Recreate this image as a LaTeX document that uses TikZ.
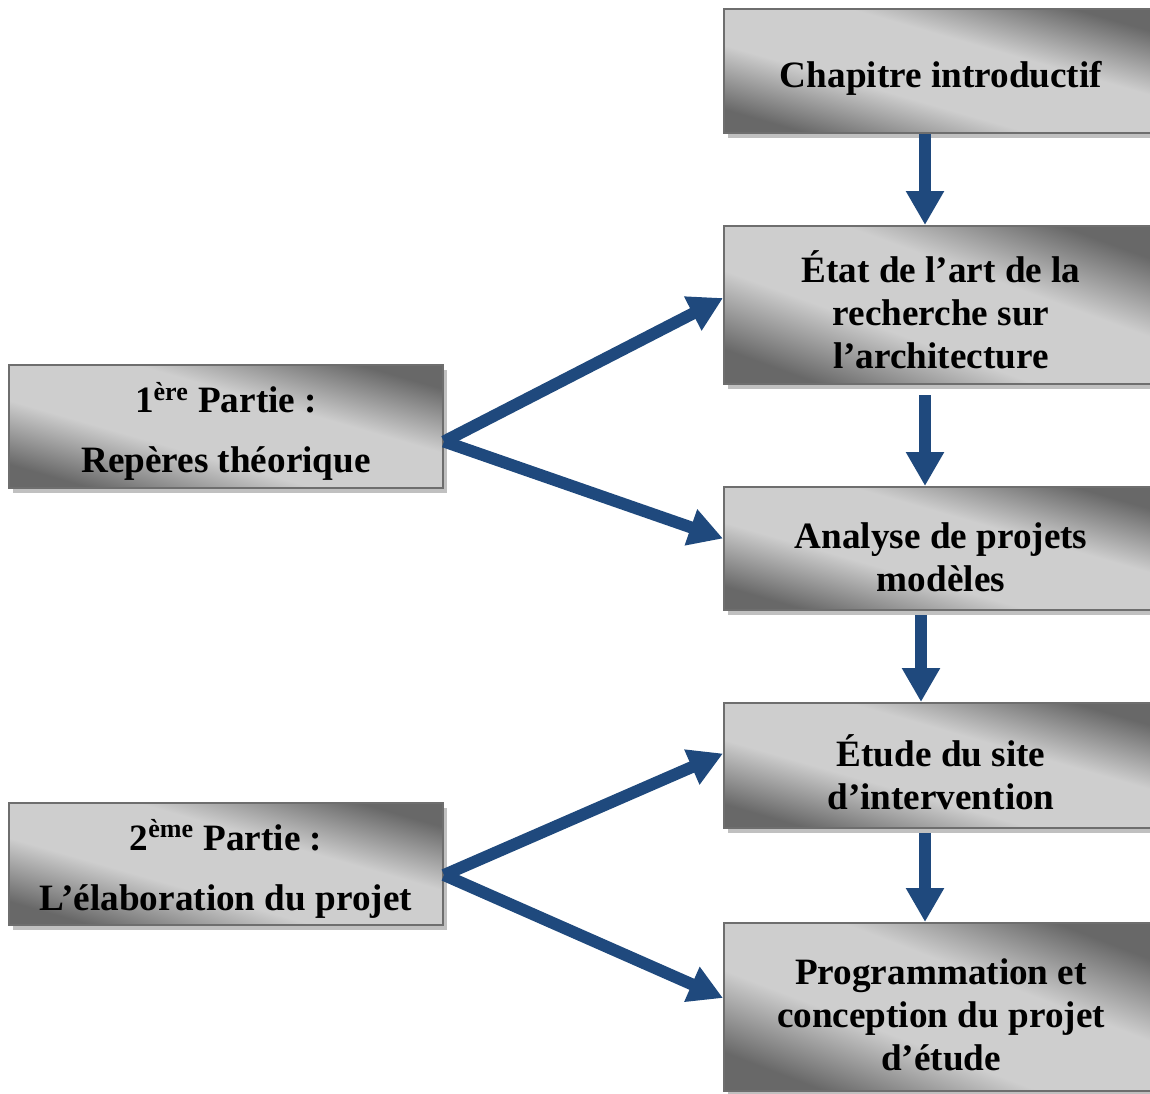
\documentclass[tikz,border=0pt]{standalone}
\usepackage{fontspec}
\setmainfont{Liberation Serif}
\usepackage{tikz}
\usetikzlibrary{arrows.meta,positioning,shadows}
\usepackage{xcolor}
\definecolor{arrowblue}{RGB}{31,73,125}
\definecolor{boxdark}{RGB}{104,104,104}
\definecolor{boxlight}{RGB}{206,206,206}
\definecolor{boxedge}{RGB}{110,110,110}
\definecolor{shadowgray}{RGB}{192,192,192}
% dark corners, wide light band along the diagonal
\pgfdeclareverticalshading{boxshade}{100bp}{color(0bp)=(boxdark); color(25bp)=(boxdark); color(41bp)=(boxlight); color(59bp)=(boxlight); color(75bp)=(boxdark); color(100bp)=(boxdark)}

\begin{document}
\begin{tikzpicture}[x=0.5pt, y=-0.5pt,
    part/.style={rectangle, draw=boxedge, line width=1pt, shading=boxshade, shading angle=-16,
        drop shadow={shadow xshift=2pt, shadow yshift=-2.5pt, fill=shadowgray, opacity=1},
        minimum width=217pt, inner sep=0pt},
    txt/.style={align=center, inner sep=0pt, font=\fontsize{18.6}{21.5}\selectfont\bfseries},
    flow/.style={arrowblue, line width=6pt, -{Triangle[width=18pt,length=17pt]}}
]
\useasboundingbox (0,0) rectangle (1150,1093);

% chapters
\node[part, minimum height=62pt] (intro) at (941,71) {};
\node[part, minimum height=79pt, shading angle=-20] (etat) at (941,305) {};
\node[part, minimum height=61.5pt] (analyse) at (941,548.5) {};
\node[part, minimum height=62.5pt] (site) at (941,765.5) {};
\node[part, minimum height=84pt, shading angle=-21] (prog) at (941,1007) {};

% parts
\node[part, minimum height=61.5pt] (partA) at (226,426.5) {};
\node[part, minimum height=61pt] (partB) at (226,864) {};

% texts
\node[txt] (introtxt) at ([yshift=-3.5pt]intro.center) {Chapitre introductif};
\node[txt] (etattxt) at ([yshift=-2.25pt]etat.center) {État de l’art de la\\recherche sur\\l’architecture};
\node[txt] (analysetxt) at ([yshift=-4.5pt]analyse.center) {Analyse de projets\\modèles};
\node[txt] (sitetxt) at ([yshift=-3.5pt]site.center) {Étude du site\\d’intervention};
\node[txt] (progtxt) at ([yshift=-4pt]prog.center) {Programmation et\\conception du projet\\d’étude};
\node[txt] (partAtxt) at ([yshift=-2.5pt]partA.center) {1\textsuperscript{ère} Partie :\\[8.5pt]Repères théorique};
\node[txt] (partBtxt) at ([yshift=-2.5pt]partB.center) {2\textsuperscript{ème} Partie :\\[8.5pt]L’élaboration du projet};

% chapters in sequence
\foreach \a/\b/\dx/\gap in {intro/etat/-8pt/0pt, etat/analyse/-8pt/5pt, analyse/site/-10pt/2pt, site/prog/-8pt/2pt}
    \draw[flow, shorten <=\gap] ([xshift=\dx]\a.south) -- ([xshift=\dx]\b.north);

% parts -> chapters
\draw[flow] ([yshift=-7.5pt]partA.east) -- ([yshift=3.5pt]etat.west);
\draw[flow] ([yshift=-7.5pt]partA.east) -- ([yshift=5pt]analyse.west);
\draw[flow] ([yshift=-5.5pt]partB.east) -- ([yshift=6pt]site.west);
\draw[flow] ([yshift=-5.5pt]partB.east) -- ([yshift=4.5pt]prog.west);
\end{tikzpicture}
\end{document}
